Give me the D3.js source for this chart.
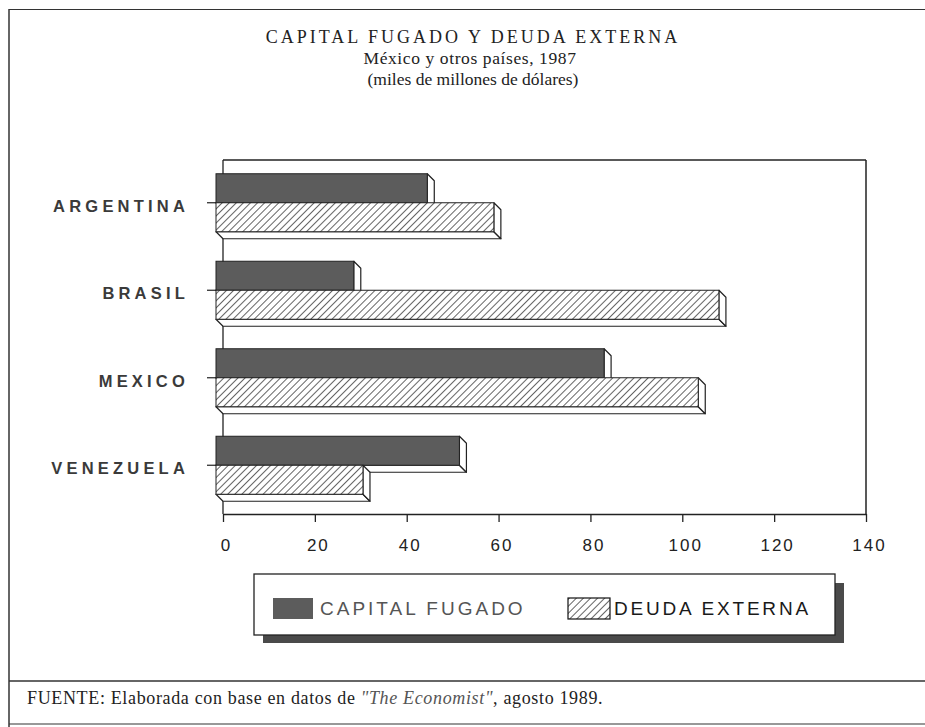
<!DOCTYPE html>
<html><head><meta charset="utf-8">
<script src="https://cdn.jsdelivr.net/npm/d3@7"></script>
<style>body{margin:0;background:#fff}</style>
</head><body>
<svg id="c" width="925" height="727"></svg>
<script>
const countries = ["ARGENTINA", "BRASIL", "MEXICO", "VENEZUELA"];
const capitalFugado = [46, 30, 84.5, 53];
const deudaExterna = [60.5, 109.5, 105, 32];
const xTicks = [0, 20, 40, 60, 80, 100, 120, 140];
const seriesNames = ["CAPITAL FUGADO", "DEUDA EXTERNA"];
const titleLines = ["CAPITAL FUGADO Y DEUDA EXTERNA", "México y otros países, 1987", "(miles de millones de dólares)"];

const svg = d3.select("#c");
const D = 7; // 3D depth
const gray = "#5c5c5c";

const defs = svg.append("defs");
const pat = defs.append("pattern").attr("id", "hatch")
  .attr("patternUnits", "userSpaceOnUse").attr("width", 5).attr("height", 5)
  .attr("patternTransform", "rotate(45)");
pat.append("rect").attr("width", 5).attr("height", 5).attr("fill", "#fff");
pat.append("line").attr("x1", 0).attr("y1", 0).attr("x2", 0).attr("y2", 5)
  .attr("stroke", "#111").attr("stroke-width", 1.3);

// outer frame
const frame = svg.append("g").attr("stroke", "#333").attr("fill", "none");
frame.append("line").attr("x1", 9).attr("x2", 9).attr("y1", 9).attr("y2", 727).attr("stroke-width", 1.5);
frame.append("line").attr("x1", 9).attr("x2", 925).attr("y1", 9.5).attr("y2", 9.5).attr("stroke-width", 1.2);
frame.append("line").attr("x1", 9).attr("x2", 925).attr("y1", 681).attr("y2", 681).attr("stroke-width", 1.5);
frame.append("line").attr("x1", 9).attr("x2", 925).attr("y1", 724).attr("y2", 724).attr("stroke-width", 1.2);

// titles
const tt = svg.append("g").attr("font-family", "'Liberation Serif','DejaVu Serif',serif")
  .attr("fill", "#222").attr("text-anchor", "middle");
tt.append("text").attr("x", 473).attr("y", 43).attr("font-size", 18)
  .attr("letter-spacing", 3).text(titleLines[0]);
tt.append("text").attr("x", 470).attr("y", 64).attr("font-size", 17.5).attr("letter-spacing", 0.6).text(titleLines[1]);
tt.append("text").attr("x", 473).attr("y", 85).attr("font-size", 17.5).text(titleLines[2]);

// scales
const x = d3.scaleLinear().domain([0, 140]).range([223, 866]);
const y = d3.scaleBand().domain(countries).range([159, 509]);
const plotTop = 160, plotBottom = 514;

// plot frame
const pf = svg.append("g").attr("stroke", "#222").attr("fill", "none");
pf.append("line").attr("x1", x(0)).attr("x2", x(140)).attr("y1", plotTop).attr("y2", plotTop).attr("stroke-width", 1.3);
pf.append("line").attr("x1", x(140)).attr("x2", x(140)).attr("y1", plotTop).attr("y2", plotBottom).attr("stroke-width", 1.5);
pf.append("line").attr("x1", x(0)).attr("x2", x(0)).attr("y1", plotTop).attr("y2", plotBottom).attr("stroke-width", 1.3);

// x axis
const xa = svg.append("g").attr("transform", `translate(0,${plotBottom})`)
  .call(d3.axisBottom(x).tickValues(xTicks).tickSize(8).tickSizeOuter(0).tickFormat(d3.format("d")));
xa.select(".domain").attr("stroke", "#222").attr("stroke-width", 1.5);
xa.selectAll(".tick line").attr("stroke", "#222").attr("stroke-width", 1.3);
xa.selectAll(".tick text").attr("y", 37).attr("dy", 0).attr("dx", 3)
  .attr("font-family", "'Liberation Sans',Arial,sans-serif").attr("font-size", 17)
  .attr("letter-spacing", 2).attr("fill", "#222");

// category axis
const ya = svg.append("g").attr("transform", `translate(${x(0) - D},0)`)
  .call(d3.axisLeft(y).tickSize(9).tickPadding(18));
ya.select(".domain").remove();
ya.selectAll(".tick line").attr("stroke", "#222").attr("stroke-width", 1.2);
ya.selectAll(".tick text").attr("font-family", "'Liberation Sans',Arial,sans-serif")
  .attr("font-size", 16.5).attr("font-weight", "bold").attr("letter-spacing", 4.2)
  .attr("fill", "#3a3a3a").attr("dy", "0.55em");

// bars
const barH = 29;
function bar3d(g, v, yTop, fill) {
  const x0 = x(0) - D, x1 = x(v) - D, yt = yTop, yb = yTop + barH;
  g.append("polygon").attr("points", [[x0, yb], [x1, yb], [x1 + D, yb + D], [x0 + D, yb + D]].join(" "))
    .attr("fill", "#fff").attr("stroke", "#222").attr("stroke-width", 1.2).attr("stroke-linejoin", "round");
  g.append("polygon").attr("points", [[x1, yt], [x1 + D, yt + D], [x1 + D, yb + D], [x1, yb]].join(" "))
    .attr("fill", "#fff").attr("stroke", "#222").attr("stroke-width", 1.2).attr("stroke-linejoin", "round");
  g.append("rect").attr("x", x0).attr("y", yt).attr("width", x1 - x0).attr("height", barH)
    .attr("fill", fill).attr("stroke", "#222").attr("stroke-width", 1);
}
const bars = svg.append("g");
countries.forEach((c, i) => {
  const cy = y(c) + y.bandwidth() / 2;
  const g = bars.append("g");
  bar3d(g, capitalFugado[i], cy - barH, gray);
  bar3d(g, deudaExterna[i], cy, "url(#hatch)");
});

// legend
const lg = svg.append("g");
lg.append("rect").attr("x", 263).attr("y", 583).attr("width", 581).attr("height", 60).attr("fill", "#4a4a4a");
lg.append("rect").attr("x", 254).attr("y", 574).attr("width", 581).attr("height", 61)
  .attr("fill", "#fff").attr("stroke", "#222").attr("stroke-width", 1.3);
lg.append("rect").attr("x", 273).attr("y", 598).attr("width", 40).attr("height", 21).attr("fill", gray);
lg.append("text").attr("x", 320).attr("y", 615).attr("font-family", "'Liberation Sans',Arial,sans-serif")
  .attr("font-size", 19).attr("letter-spacing", 3).attr("fill", "#555").text(seriesNames[0]);
lg.append("rect").attr("x", 568).attr("y", 598).attr("width", 42).attr("height", 21)
  .attr("fill", "url(#hatch)").attr("stroke", "#111").attr("stroke-width", 1.2);
lg.append("text").attr("x", 614).attr("y", 615).attr("font-family", "'Liberation Sans',Arial,sans-serif")
  .attr("font-size", 19).attr("letter-spacing", 2.8).attr("fill", "#1a1a1a").text(seriesNames[1]);

// footer
const ft = svg.append("text").attr("x", 27).attr("y", 704)
  .attr("font-family", "'Liberation Serif','DejaVu Serif',serif").attr("font-size", 18)
  .attr("letter-spacing", 0.65).attr("fill", "#222");
ft.append("tspan").text("FUENTE: Elaborada con base en datos de ");
ft.append("tspan").attr("font-style", "italic").attr("fill", "#555").text("\"The Economist\"");
ft.append("tspan").text(", agosto 1989.");
</script>
</body></html>
